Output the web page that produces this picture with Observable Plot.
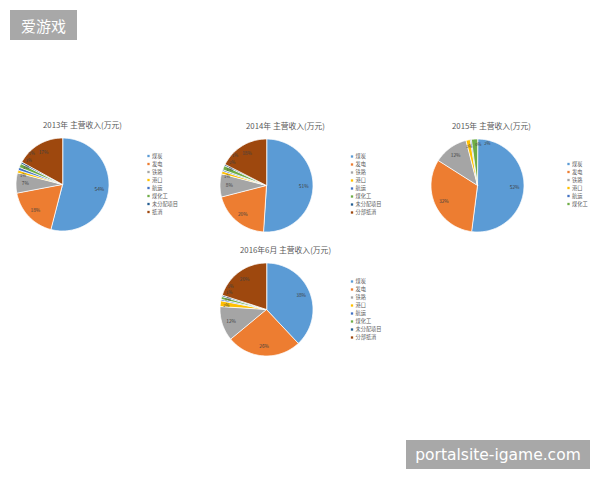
<!DOCTYPE html>
<html><head><meta charset="utf-8">
<script src="https://cdn.jsdelivr.net/npm/d3@7"></script>
<script src="https://cdn.jsdelivr.net/npm/@observablehq/plot@0.6"></script>
<style>
body{margin:0;background:#fff;font-family:"Noto Sans CJK SC","Noto Sans",sans-serif;}
#wrap{position:relative;width:600px;height:480px;overflow:hidden;}
.badge{position:absolute;background:#a8a8a8;color:#fff;display:flex;align-items:center;justify-content:center;}
</style></head><body>
<div id="wrap">
<div class="badge" style="left:10px;top:10px;width:67px;height:30px;font-size:15px;">爱游戏</div>
<div class="badge" style="left:406px;top:440px;width:184px;height:29px;font-size:15.5px;font-family:'DejaVu Sans',sans-serif;">portalsite-igame.com</div>
</div>
<script>
// ---- data ----
const categories = ["煤炭","发电","铁路","港口","航运","煤化工","未分配项目","分部抵消"];
const colors = ["#5B9BD5","#ED7D31","#A5A5A5","#FFC000","#4472C4","#70AD47","#255E91","#9E480E"];
const titles = ["2013年 主营收入(万元)","2014年 主营收入(万元)","2015年 主营收入(万元)","2016年6月 主营收入(万元)"];
const legend2013 = ["煤炭","发电","铁路","港口","航运","煤化工","未分配项目","抵消"];
const legend2014 = ["煤炭","发电","铁路","港口","航运","煤化工","未分配项目","分部抵消"];
const legend2015 = ["煤炭","发电","铁路","港口","航运","煤化工"];
const legend2016 = ["煤炭","发电","铁路","港口","航运","煤化工","未分配项目","分部抵消"];
const share2013 = [54, 18, 7, 1, 1, 1.4, 0.6, 17];
const share2014 = [51, 20, 8, 1, 0.5, 1.5, 0.5, 17.5];
const share2015 = [52, 32, 12, 1.5, 0.4, 2.1];
const share2016 = [38, 26, 12, 2, 0.5, 1, 0.5, 20];

// ---- layout ----
const layout = [
  {cx: 62, cy: 184, tx: 82, ty: 125, lx: 148, ly: 155.5},
  {cx: 266, cy: 185, tx: 285, ty: 126, lx: 351.5, ly: 156},
  {cx: 477, cy: 185, tx: 491, ty: 126, lx: 568, ly: 163.5},
  {cx: 266, cy: 309, tx: 285, ty: 250, lx: 351.5, ly: 281}
];
const R = 46.5;
const shares = [share2013, share2014, share2015, share2016];
const legends = [legend2013, legend2014, legend2015, legend2016];

const slices = [], labels = [], legendRows = [], titleRows = [];
shares.forEach((vals, p) => {
  const L = layout[p];
  titleRows.push({x: L.tx, y: L.ty, text: titles[p]});
  const arcs = d3.pie().sort(null).value(d => d)(vals);
  const small = [];
  arcs.forEach((a, i) => {
    const key = p + "-" + i;
    const cat = categories[i];
    slices.push({key, cat, x: L.cx, y: L.cy});
    const n = Math.max(2, Math.ceil((a.endAngle - a.startAngle) / (Math.PI / 120)));
    for (let k = 0; k <= n; k++) {
      const t = a.startAngle + (a.endAngle - a.startAngle) * k / n;
      slices.push({key, cat, x: L.cx + R * Math.sin(t), y: L.cy - R * Math.cos(t)});
    }
    const mid = (a.startAngle + a.endAngle) / 2;
    const text = Math.round(vals[i]) + "%";
    if (vals[i] < 3) small.push({mid, text});
    else labels.push({x: L.cx + 0.8 * R * Math.sin(mid), y: L.cy - 0.8 * R * Math.cos(mid), text});
    legendRows.push({x: L.lx, y: L.ly + i * 8, cat, text: legends[p][i]});
  });
  // spread the tiny-slice labels along the tangent so they do not collide
  if (small.length) {
    const m = d3.mean(small, d => d.mid);
    const rr = R * 0.86;
    const bx = L.cx + rr * Math.sin(m), by = L.cy - rr * Math.cos(m);
    const tx = Math.cos(m), ty = Math.sin(m);
    const gap = Math.abs(tx) * 8.5 + Math.abs(ty) * 4.8;
    small.forEach((d, k) => {
      const o = (k - (small.length - 1) / 2 + 0.7) * gap;
      labels.push({x: bx + tx * o, y: by + ty * o, text: d.text, small: true});
    });
  }
});

const chart = Plot.plot({
  width: 600, height: 480,
  margin: 0,
  x: {domain: [0, 600], range: [0, 600], axis: null},
  y: {domain: [0, 480], range: [0, 480], axis: null},
  color: {domain: categories, range: colors},
  style: {fontFamily: "'Noto Sans CJK SC', sans-serif", background: "transparent"},
  marks: [
    Plot.line(slices, {x: "x", y: "y", z: "key", fill: "cat", stroke: "white", strokeWidth: 0.8, curve: "linear-closed"}),
    Plot.text(labels, {x: "x", y: "y", text: "text", fontSize: d => d.small ? 4.2 : 4.8, fill: "#404040"}),
    Plot.text(titleRows, {x: "x", y: "y", text: "text", fontSize: 7.8, fill: "#595959"}),
    Plot.dot(legendRows, {x: "x", y: "y", fill: "cat", symbol: "square", r: 1.3}),
    Plot.text(legendRows, {x: d => d.x + 3.5, y: "y", text: "text", fontSize: 5.2, fill: "#595959", textAnchor: "start"})
  ]
});
chart.style.position = "absolute";
chart.style.left = "0px";
chart.style.top = "0px";
document.getElementById("wrap").prepend(chart);
</script>
</body></html>
